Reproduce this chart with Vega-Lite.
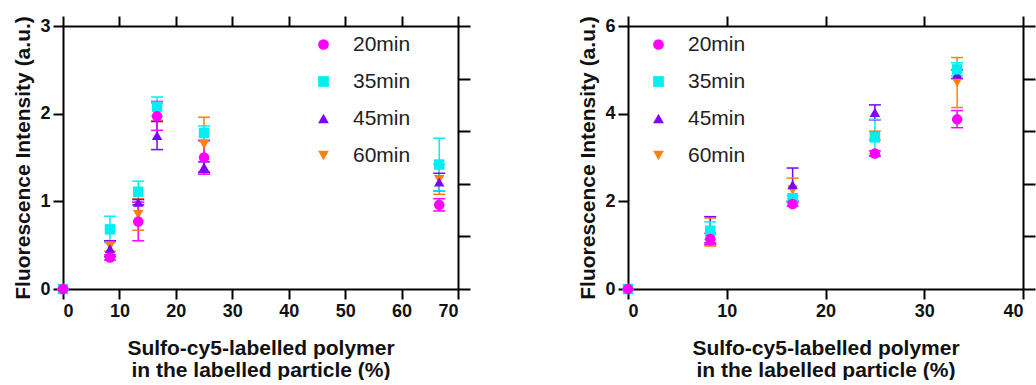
{
  "$schema": "https://vega.github.io/schema/vega-lite/v6.json",
  "padding": {"left": 12, "top": 15, "right": 0, "bottom": 0},
  "spacing": 106,
  "datasets": {
    "left": [
      {"x": 0, "time": "60min", "y": 0, "lo": 0, "hi": 0},
      {"x": 0, "time": "45min", "y": 0, "lo": 0, "hi": 0},
      {"x": 0, "time": "35min", "y": 0, "lo": 0, "hi": 0},
      {"x": 0, "time": "20min", "y": 0, "lo": 0, "hi": 0},
      {"x": 8.33, "time": "60min", "y": 0.49, "lo": 0.43, "hi": 0.55},
      {"x": 8.33, "time": "45min", "y": 0.46, "lo": 0.37, "hi": 0.55},
      {"x": 8.33, "time": "35min", "y": 0.68, "lo": 0.53, "hi": 0.83},
      {"x": 8.33, "time": "20min", "y": 0.36, "lo": 0.33, "hi": 0.39},
      {"x": 13.33, "time": "60min", "y": 0.85, "lo": 0.67, "hi": 1.03},
      {"x": 13.33, "time": "45min", "y": 0.99, "lo": 0.96, "hi": 1.02},
      {"x": 13.33, "time": "35min", "y": 1.11, "lo": 0.99, "hi": 1.23},
      {"x": 13.33, "time": "20min", "y": 0.77, "lo": 0.55, "hi": 0.99},
      {"x": 16.67, "time": "60min", "y": 2.02, "lo": 1.92, "hi": 2.12},
      {"x": 16.67, "time": "45min", "y": 1.75, "lo": 1.59, "hi": 1.91},
      {"x": 16.67, "time": "35min", "y": 2.08, "lo": 1.97, "hi": 2.19},
      {"x": 16.67, "time": "20min", "y": 1.97, "lo": 1.81, "hi": 2.14},
      {"x": 25, "time": "60min", "y": 1.65, "lo": 1.34, "hi": 1.96},
      {"x": 25, "time": "45min", "y": 1.39, "lo": 1.33, "hi": 1.45},
      {"x": 25, "time": "35min", "y": 1.78, "lo": 1.7, "hi": 1.86},
      {"x": 25, "time": "20min", "y": 1.5, "lo": 1.31, "hi": 1.69},
      {"x": 66.67, "time": "60min", "y": 1.25, "lo": 1.08, "hi": 1.42},
      {"x": 66.67, "time": "45min", "y": 1.22, "lo": 1.12, "hi": 1.32},
      {"x": 66.67, "time": "35min", "y": 1.42, "lo": 1.12, "hi": 1.72},
      {"x": 66.67, "time": "20min", "y": 0.96, "lo": 0.89, "hi": 1.03}
    ],
    "right": [
      {"x": 0, "time": "60min", "y": 0, "lo": 0, "hi": 0},
      {"x": 0, "time": "45min", "y": 0, "lo": 0, "hi": 0},
      {"x": 0, "time": "35min", "y": 0, "lo": 0, "hi": 0},
      {"x": 0, "time": "20min", "y": 0, "lo": 0, "hi": 0},
      {"x": 8.33, "time": "60min", "y": 1.3, "lo": 0.98, "hi": 1.62},
      {"x": 8.33, "time": "45min", "y": 1.35, "lo": 1.05, "hi": 1.65},
      {"x": 8.33, "time": "35min", "y": 1.33, "lo": 1.13, "hi": 1.53},
      {"x": 8.33, "time": "20min", "y": 1.14, "lo": 1.01, "hi": 1.27},
      {"x": 16.67, "time": "60min", "y": 2.26, "lo": 1.99, "hi": 2.53},
      {"x": 16.67, "time": "45min", "y": 2.38, "lo": 2.0, "hi": 2.76},
      {"x": 16.67, "time": "35min", "y": 2.07, "lo": 2.01, "hi": 2.13},
      {"x": 16.67, "time": "20min", "y": 1.94, "lo": 1.89, "hi": 1.99},
      {"x": 25, "time": "60min", "y": 3.5, "lo": 3.4, "hi": 3.6},
      {"x": 25, "time": "45min", "y": 4.03, "lo": 3.86, "hi": 4.2},
      {"x": 25, "time": "35min", "y": 3.46, "lo": 3.05, "hi": 3.87},
      {"x": 25, "time": "20min", "y": 3.09, "lo": 3.03, "hi": 3.15},
      {"x": 33.33, "time": "60min", "y": 4.71, "lo": 4.14, "hi": 5.28},
      {"x": 33.33, "time": "45min", "y": 4.9, "lo": 4.8, "hi": 5.0},
      {"x": 33.33, "time": "35min", "y": 5.01, "lo": 4.86, "hi": 5.16},
      {"x": 33.33, "time": "20min", "y": 3.87, "lo": 3.68, "hi": 4.07}
    ]
  },
  "hconcat": [
    {
      "width": 395,
      "height": 263,
      "data": {"name": "left"},
      "layer": [
        {
          "mark": {"type": "rule", "strokeWidth": 1.5},
          "encoding": {
            "x": {"field": "x", "type": "quantitative", "scale": {"domain": [0, 70], "nice": false},
                  "axis": {"orient": "top", "values": [0, 10, 20, 30, 40, 50, 60, 70], "labels": false, "title": null}},
            "y": {"field": "lo", "type": "quantitative", "scale": {"domain": [0, 3], "nice": false},
                  "axis": {"orient": "right", "values": [0, 0.6, 1.2, 1.8, 2.4, 3], "labels": false, "title": null, "tickSize": 12}},
            "y2": {"field": "hi"},
            "color": {"field": "time", "type": "nominal",
                      "scale": {"domain": ["20min", "35min", "45min", "60min"], "range": ["#FF00FF", "#00EFEF", "#7F00FF", "#FF7F10"]}}
          }
        },
        {
          "mark": {"type": "tick", "orient": "horizontal", "size": 12, "thickness": 1.5, "opacity": 1},
          "encoding": {
            "x": {"field": "x", "type": "quantitative", "axis": null},
            "y": {"field": "lo", "type": "quantitative", "axis": null},
            "color": {"field": "time", "type": "nominal"}
          }
        },
        {
          "mark": {"type": "tick", "orient": "horizontal", "size": 12, "thickness": 1.5, "opacity": 1},
          "encoding": {
            "x": {"field": "x", "type": "quantitative", "axis": null},
            "y": {"field": "hi", "type": "quantitative", "axis": null},
            "color": {"field": "time", "type": "nominal"}
          }
        },
        {
          "mark": {"type": "point", "filled": true, "size": 110, "opacity": 1},
          "encoding": {
            "x": {"field": "x", "type": "quantitative",
                  "axis": {"orient": "bottom", "values": [0, 10, 20, 30, 40, 50, 60, 70],
                           "title": ["Sulfo-cy5-labelled polymer", "in the labelled particle (%)"]}},
            "y": {"field": "y", "type": "quantitative",
                  "axis": {"orient": "left", "values": [0, 1, 2, 3], "title": "Fluorescence Intensity (a.u.)"}},
            "color": {"field": "time", "type": "nominal",
                      "legend": {"orient": "none", "legendX": 250, "legendY": 8, "title": null}},
            "shape": {"field": "time", "type": "nominal",
                      "scale": {"domain": ["20min", "35min", "45min", "60min"], "range": ["circle", "square", "triangle-up", "triangle-down"]},
                      "legend": {"orient": "none", "legendX": 250, "legendY": 8, "title": null}}
          }
        }
      ],
      "resolve": {"axis": {"x": "independent", "y": "independent"}}
    },
    {
      "width": 395,
      "height": 263,
      "data": {"name": "right"},
      "layer": [
        {
          "mark": {"type": "rule", "strokeWidth": 1.5},
          "encoding": {
            "x": {"field": "x", "type": "quantitative", "scale": {"domain": [0, 40], "nice": false},
                  "axis": {"orient": "top", "values": [0, 10, 20, 30, 40], "labels": false, "title": null}},
            "y": {"field": "lo", "type": "quantitative", "scale": {"domain": [0, 6], "nice": false},
                  "axis": {"orient": "right", "values": [0, 1.2, 2.4, 3.6, 4.8, 6], "labels": false, "title": null, "tickSize": 12}},
            "y2": {"field": "hi"},
            "color": {"field": "time", "type": "nominal",
                      "scale": {"domain": ["20min", "35min", "45min", "60min"], "range": ["#FF00FF", "#00EFEF", "#7F00FF", "#FF7F10"]}}
          }
        },
        {
          "mark": {"type": "tick", "orient": "horizontal", "size": 12, "thickness": 1.5, "opacity": 1},
          "encoding": {
            "x": {"field": "x", "type": "quantitative", "axis": null},
            "y": {"field": "lo", "type": "quantitative", "axis": null},
            "color": {"field": "time", "type": "nominal"}
          }
        },
        {
          "mark": {"type": "tick", "orient": "horizontal", "size": 12, "thickness": 1.5, "opacity": 1},
          "encoding": {
            "x": {"field": "x", "type": "quantitative", "axis": null},
            "y": {"field": "hi", "type": "quantitative", "axis": null},
            "color": {"field": "time", "type": "nominal"}
          }
        },
        {
          "mark": {"type": "point", "filled": true, "size": 110, "opacity": 1},
          "encoding": {
            "x": {"field": "x", "type": "quantitative",
                  "axis": {"orient": "bottom", "values": [0, 10, 20, 30, 40],
                           "title": ["Sulfo-cy5-labelled polymer", "in the labelled particle (%)"]}},
            "y": {"field": "y", "type": "quantitative",
                  "axis": {"orient": "left", "values": [0, 2, 4, 6], "title": "Fluorescence Intensity (a.u.)"}},
            "color": {"field": "time", "type": "nominal",
                      "legend": {"orient": "none", "legendX": 20, "legendY": 8, "title": null}},
            "shape": {"field": "time", "type": "nominal",
                      "scale": {"domain": ["20min", "35min", "45min", "60min"], "range": ["circle", "square", "triangle-up", "triangle-down"]},
                      "legend": {"orient": "none", "legendX": 20, "legendY": 8, "title": null}}
          }
        }
      ],
      "resolve": {"axis": {"x": "independent", "y": "independent"}}
    }
  ],
  "resolve": {"scale": {"color": "independent", "shape": "independent"}, "legend": {"color": "independent", "shape": "independent"}},
  "config": {
    "view": {"stroke": null},
    "axis": {
      "grid": false,
      "domainColor": "#000000",
      "domainWidth": 2,
      "tickColor": "#000000",
      "tickWidth": 2,
      "tickSize": 10,
      "labelFont": "Liberation Sans",
      "labelFontSize": 18,
      "labelFontWeight": "bold",
      "labelColor": "#111111",
      "labelPadding": 3,
      "titleFont": "Liberation Sans",
      "titleFontSize": 21,
      "titleFontWeight": "bold",
      "titleColor": "#111111",
      "titleLineHeight": 22
    },
    "axisLeft": {"titlePadding": 6},
    "axisBottom": {"titlePadding": 17},
    "legend": {
      "labelFont": "Liberation Sans",
      "labelFontSize": 21,
      "labelColor": "#222222",
      "symbolSize": 115,
      "symbolStrokeWidth": 0,
      "rowPadding": 15,
      "labelOffset": 19,
      "padding": 0
    }
  }
}
